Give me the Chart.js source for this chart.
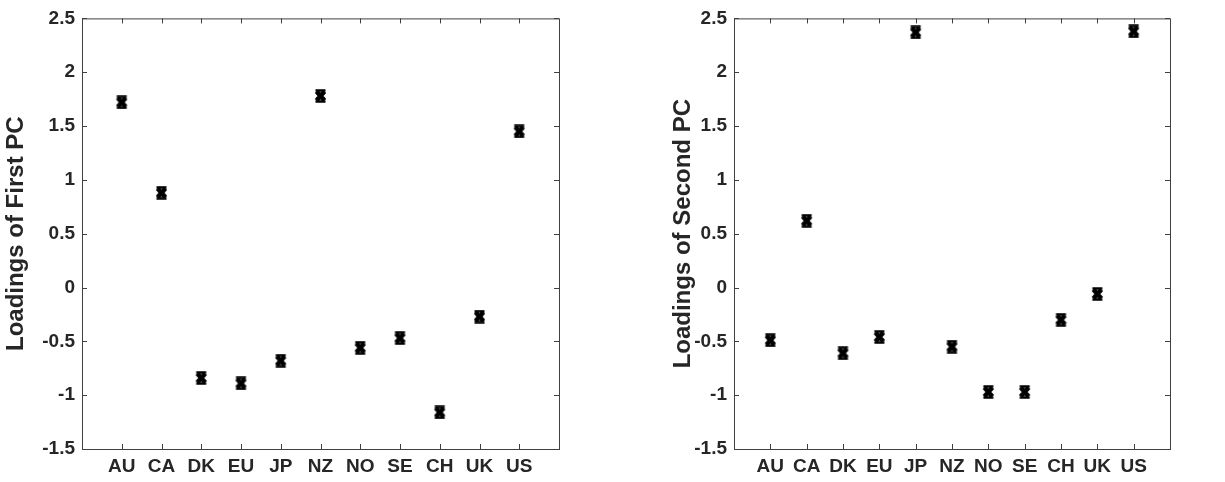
<!DOCTYPE html>
<html>
<head>
<meta charset="utf-8">
<script src="https://cdn.jsdelivr.net/npm/chart.js@4"></script>
<style>
  body { margin: 0; background: #fff; width: 1225px; height: 482px; position: relative; overflow: hidden; }
  .box { position: absolute; top: 0; height: 482px; }
  #leftBox { left: 0; width: 600px; }
  #rightBox { left: 667px; width: 558px; }
</style>
</head>
<body>
<div class="box" id="leftBox"><canvas id="firstPC"></canvas></div>
<div class="box" id="rightBox"><canvas id="secondPC"></canvas></div>
<script>
// Currencies along the x axis
const countries = ['AU', 'CA', 'DK', 'EU', 'JP', 'NZ', 'NO', 'SE', 'CH', 'UK', 'US'];

// Loadings of the first two principal components
const firstLoadings = [1.72, 0.88, -0.84, -0.89, -0.68, 1.78, -0.56, -0.47, -1.16, -0.27, 1.45];
const secondLoadings = [-0.49, 0.62, -0.61, -0.46, 2.37, -0.55, -0.97, -0.97, -0.30, -0.06, 2.38];

// y axis tick values (shared by both plots)
const yTicks = [-1.5, -1, -0.5, 0, 0.5, 1, 1.5, 2, 2.5];

const textColor = '#262626';
const frameColor = '#404040';
const tickFont = { family: "'Liberation Sans', Arial, sans-serif", size: 19, weight: 'bold' };
const titleFont = { family: "'Liberation Sans', Arial, sans-serif", size: 24, weight: 'bold' };

// bold cross marker with flat top and bottom
function makeMarker() {
    const c = document.createElement('canvas');
    c.width = 13;
    c.height = 14;
    const g = c.getContext('2d');
    g.strokeStyle = '#000';
    g.lineWidth = 4.6;
    g.beginPath();
    g.moveTo(2.5, 2.5); g.lineTo(10.5, 11.5);
    g.moveTo(10.5, 2.5); g.lineTo(2.5, 11.5);
    g.stroke();
    g.lineWidth = 2.5;
    g.beginPath();
    g.moveTo(1.5, 1.5); g.lineTo(11.5, 1.5);
    g.moveTo(1.5, 12.5); g.lineTo(11.5, 12.5);
    g.stroke();
    return c;
}
const marker = makeMarker();

// box around the plot area with short inward ticks on every side
const framePlugin = {
    id: 'frame',
    afterDraw(chart) {
        const ctx = chart.ctx;
        const a = chart.chartArea;
        const xs = chart.scales.x, ys = chart.scales.y;
        const len = 5;
        ctx.save();
        ctx.strokeStyle = frameColor;
        ctx.lineWidth = 1;
        ctx.strokeRect(a.left + 0.5, a.top + 0.5, a.right - a.left, a.bottom - a.top);
        ctx.beginPath();
        xs.ticks.forEach(t => {
            const px = Math.round(xs.getPixelForValue(t.value)) + 0.5;
            ctx.moveTo(px, a.bottom); ctx.lineTo(px, a.bottom - len);
            ctx.moveTo(px, a.top); ctx.lineTo(px, a.top + len);
        });
        ys.ticks.forEach(t => {
            const py = Math.round(ys.getPixelForValue(t.value)) + 0.5;
            ctx.moveTo(a.left, py); ctx.lineTo(a.left + len, py);
            ctx.moveTo(a.right, py); ctx.lineTo(a.right - len, py);
        });
        ctx.stroke();
        ctx.restore();
    }
};

function makeChart(id, values, yTitle, yWidth, pad) {
    const points = values.map((v, i) => ({ x: i + 1, y: v }));
    return new Chart(document.getElementById(id), {
        type: 'scatter',
        data: {
            datasets: [{
                data: points,
                pointStyle: marker,
                pointRadius: 6,
                pointHoverRadius: 6
            }]
        },
        options: {
            responsive: true,
            maintainAspectRatio: false,
            animation: false,
            layout: { padding: pad },
            plugins: {
                legend: { display: false },
                tooltip: { enabled: false }
            },
            scales: {
                x: {
                    type: 'linear',
                    min: 0,
                    max: countries.length + 1,
                    grid: { display: false, drawTicks: false },
                    border: { display: false },
                    afterBuildTicks: scale => {
                        scale.ticks = countries.map((c, i) => ({ value: i + 1 }));
                    },
                    afterFit: scale => { scale.height = 33; },
                    ticks: {
                        autoSkip: false,
                        maxRotation: 0,
                        padding: 6,
                        color: textColor,
                        font: tickFont,
                        callback: v => countries[v - 1]
                    }
                },
                y: {
                    min: yTicks[0],
                    max: yTicks[yTicks.length - 1],
                    grid: { display: false, drawTicks: false },
                    border: { display: false },
                    afterBuildTicks: scale => {
                        scale.ticks = yTicks.map(v => ({ value: v }));
                    },
                    afterFit: scale => { scale.width = yWidth; },
                    title: {
                        display: true,
                        text: yTitle,
                        color: textColor,
                        font: titleFont,
                        padding: { top: 2, bottom: 0 }
                    },
                    ticks: {
                        padding: 7,
                        color: textColor,
                        font: tickFont,
                        callback: v => String(v)
                    }
                }
            }
        },
        plugins: [framePlugin]
    });
}

makeChart('firstPC', firstLoadings, 'Loadings of First PC', 82, { top: 15, right: 41, bottom: 0, left: 0 });
makeChart('secondPC', secondLoadings, 'Loadings of Second PC', 67, { top: 16, right: 55, bottom: 0, left: 0 });
</script>
</body>
</html>
